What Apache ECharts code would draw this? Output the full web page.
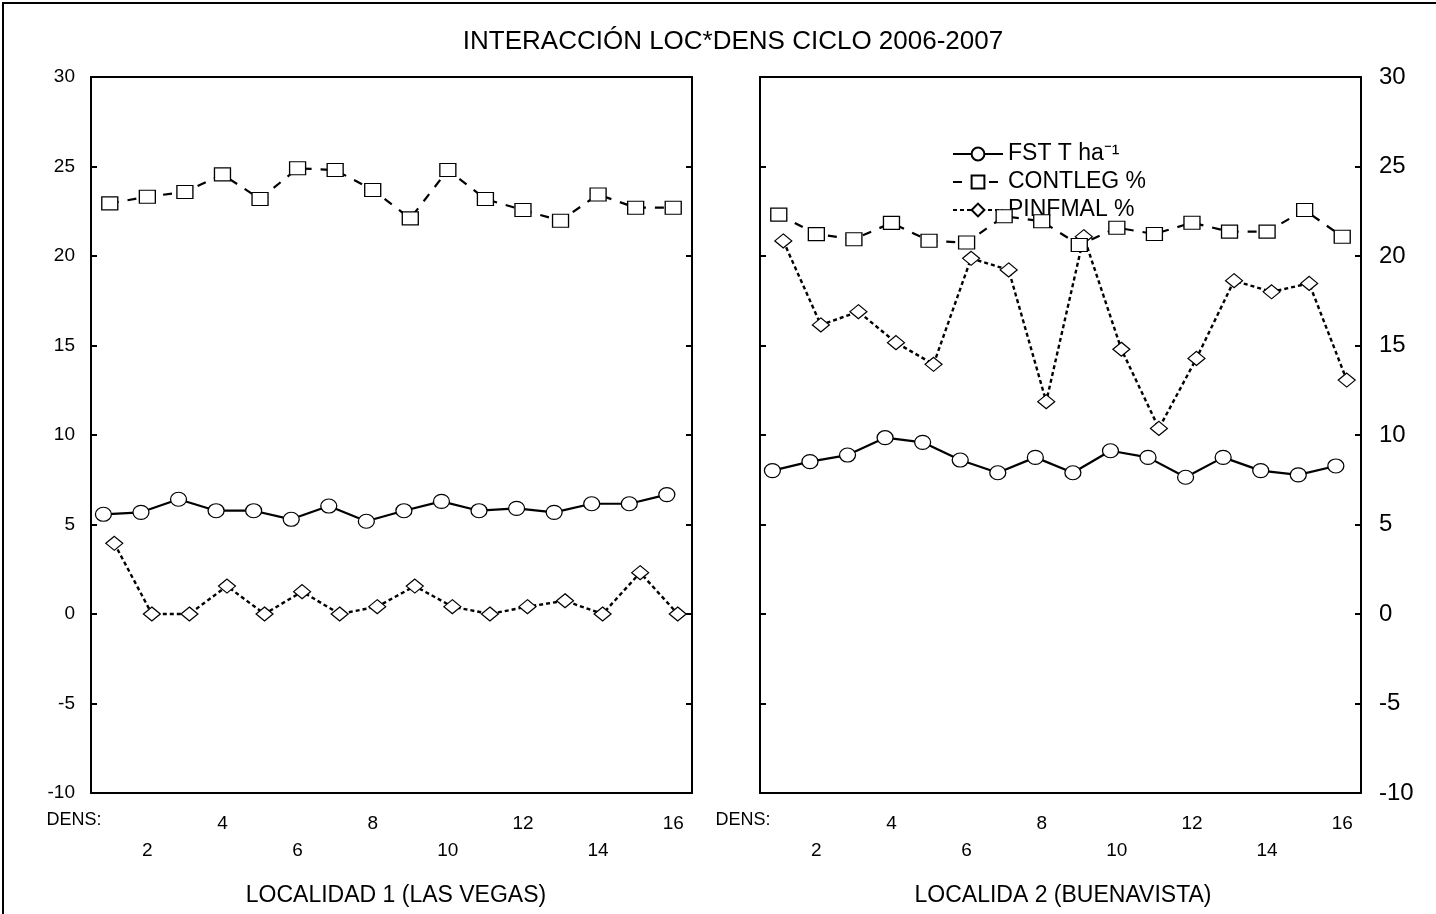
<!DOCTYPE html>
<html>
<head>
<meta charset="utf-8">
<script src="https://cdn.jsdelivr.net/npm/echarts@6/dist/echarts.min.js"></script>
<style>
html,body{margin:0;padding:0;background:#fff;}
#chart{width:1436px;height:914px;}
</style>
</head>
<body>
<div id="chart"></div>
<script>
const dens = [1,2,3,4,5,6,7,8,9,10,11,12,13,14,15,16];
const seriesNames = ['FST T ha\u207B\u00B9', 'CONTLEG %', 'PINFMAL %'];
const panelTitles = ['LOCALIDAD 1 (LAS VEGAS)', 'LOCALIDA 2 (BUENAVISTA)'];
const chartTitle = 'INTERACCIÓN LOC*DENS CICLO 2006-2007';
const densLabel = 'DENS:';

const fstLoc1     = [5.57,5.68,6.41,5.77,5.77,5.29,6.03,5.18,5.77,6.29,5.77,5.90,5.68,6.16,6.16,6.67];
const contlegLoc1 = [22.94,23.31,23.58,24.56,23.18,24.90,24.80,23.69,22.10,24.80,23.18,22.57,21.97,23.44,22.70,22.70];
const pinfmalLoc1 = [3.95,0,0,1.56,0,1.25,0,0.41,1.56,0.41,0,0.41,0.74,0,2.31,0];

const fstLoc2     = [8.01,8.51,8.88,9.85,9.59,8.60,7.89,8.75,7.89,9.12,8.75,7.64,8.75,8.01,7.77,8.27];
const contlegLoc2 = [22.31,21.22,20.94,21.85,20.85,20.75,22.22,21.94,20.61,21.58,21.23,21.86,21.36,21.36,22.57,21.08];
const pinfmalLoc2 = [20.84,16.15,16.89,15.16,13.95,19.87,19.22,11.86,21.08,14.79,10.37,14.28,18.62,18.00,18.47,13.07];

const yMin = -10, yMax = 30, yStep = 5;

const chart = echarts.init(document.getElementById('chart'));
const FONT = 'Liberation Sans, Arial, sans-serif';

const grids = [
  {left: 91, top: 77, width: 601, height: 716},
  {left: 760, top: 77, width: 601, height: 716}
];

const xAxes = [], yAxes = [], series = [];
const cats = dens.map(String);
// per-series horizontal jitter (in category units) as in the original plot
const shift = {circle: -0.17, rect: 0, diamond: 0.12};

grids.forEach((g, gi) => {
  const base = xAxes.length;
  xAxes.push({
    gridIndex: gi, type: 'category', data: cats, position: 'bottom', boundaryGap: true,
    axisLine: {onZero: false, lineStyle: {color: '#000', width: 2}},
    axisTick: {inside: true, alignWithLabel: true, length: 6, lineStyle: {color: '#000', width: 2}},
    axisLabel: {
      interval: 0, color: '#000', fontFamily: FONT, fontSize: 19, margin: 17, lineHeight: 27,
      formatter: (v) => { const n = +v; if (n % 4 === 0) return String(n); if (n % 2 === 0) return '\n' + n; return ''; }
    },
    splitLine: {show: false}
  });
  xAxes.push({
    gridIndex: gi, type: 'category', data: cats, position: 'top', boundaryGap: true,
    axisLine: {onZero: false, lineStyle: {color: '#000', width: 2}},
    axisTick: {inside: true, alignWithLabel: true, length: 6, lineStyle: {color: '#000', width: 2}},
    axisLabel: {show: false}, splitLine: {show: false}
  });
  ['circle', 'diamond'].forEach(s => {
    xAxes.push({
      gridIndex: gi, type: 'value', min: 0.5 - shift[s], max: 16.5 - shift[s], show: false,
      axisLine: {onZero: false}, splitLine: {show: false}
    });
  });
  const yBase = yAxes.length;
  ['left', 'right'].forEach(pos => {
    const showLbl = (gi === 0 && pos === 'left') || (gi === 1 && pos === 'right');
    yAxes.push({
      gridIndex: gi, type: 'value', position: pos, min: yMin, max: yMax, interval: yStep,
      axisLine: {show: true, onZero: false, lineStyle: {color: '#000', width: 2}},
      axisTick: {show: true, inside: true, length: 6, lineStyle: {color: '#000', width: 2}},
      axisLabel: {show: showLbl, color: '#000', fontFamily: FONT, fontSize: gi === 0 ? 19 : 24, margin: gi === 0 ? 16 : 18},
      splitLine: {show: false}
    });
  });
  const fst = gi === 0 ? fstLoc1 : fstLoc2;
  const cont = gi === 0 ? contlegLoc1 : contlegLoc2;
  const pinf = gi === 0 ? pinfmalLoc1 : pinfmalLoc2;
  const common = {type: 'line', yAxisIndex: yBase, showSymbol: true, animation: false,
    itemStyle: {color: '#fff', borderColor: '#000', borderWidth: 1.2}};
  series.push(Object.assign({}, common, {
    name: seriesNames[0], xAxisIndex: base + 2, symbol: 'circle', symbolSize: [16, 14], z: 3,
    lineStyle: {color: '#000', width: 2.2, type: 'solid'},
    data: dens.map((d, i) => [d, fst[i]])
  }));
  series.push(Object.assign({}, common, {
    name: seriesNames[1], xAxisIndex: base, symbol: 'rect', symbolSize: [16, 13], z: 4,
    lineStyle: {color: '#000', width: 2.2, type: [9, 9]},
    data: cont
  }));
  series.push(Object.assign({}, common, {
    name: seriesNames[2], xAxisIndex: base + 3, symbol: 'diamond', symbolSize: [17, 14], z: 2,
    lineStyle: {color: '#000', width: 2.4, type: [4, 3]},
    data: dens.map((d, i) => [d, pinf[i]])
  }));
});

const graphic = [
  {type: 'rect', shape: {x: 3, y: 3, width: 1450, height: 930}, style: {fill: 'none', stroke: '#000', lineWidth: 2}, silent: true},
  {type: 'text', x: 733, y: 42, style: {text: chartTitle, font: '26px ' + FONT, fill: '#000', textAlign: 'center', textVerticalAlign: 'middle'}},
  {type: 'text', x: 74, y: 820, style: {text: densLabel, font: '18px ' + FONT, fill: '#000', textAlign: 'center', textVerticalAlign: 'middle'}},
  {type: 'text', x: 743, y: 820, style: {text: densLabel, font: '18px ' + FONT, fill: '#000', textAlign: 'center', textVerticalAlign: 'middle'}},
  {type: 'text', x: 396, y: 896, style: {text: panelTitles[0], font: '23px ' + FONT, fill: '#000', textAlign: 'center', textVerticalAlign: 'middle'}},
  {type: 'text', x: 1063, y: 896, style: {text: panelTitles[1], font: '23px ' + FONT, fill: '#000', textAlign: 'center', textVerticalAlign: 'middle'}}
];

chart.setOption({
  animation: false,
  backgroundColor: '#fff',
  grid: grids.map(g => Object.assign({containLabel: false}, g)),
  xAxis: xAxes,
  yAxis: yAxes,
  legend: {
    data: seriesNames, orient: 'vertical', left: 947, top: 137, itemWidth: 50, itemHeight: 16, itemGap: 4,
    selectedMode: false,
    textStyle: {color: '#000', fontFamily: FONT, fontSize: 23, lineHeight: 24}
  },
  graphic: graphic,
  series: series
});
</script>
</body>
</html>
